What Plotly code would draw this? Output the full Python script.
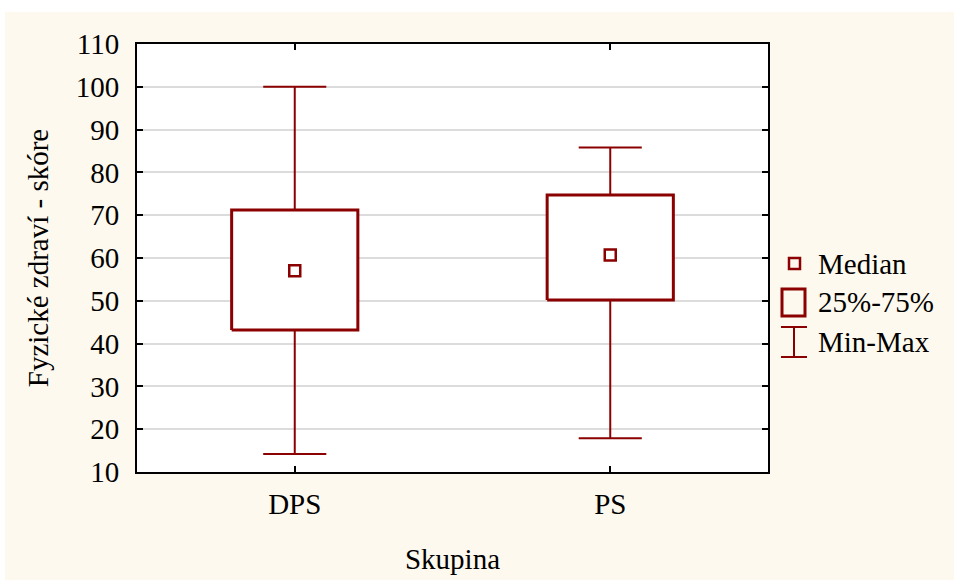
import plotly.graph_objects as go

categories = ["DPS", "PS"]
q_min = [14.2, 17.9]
q1 = [43.2, 50.2]
median = [57.0, 60.7]
q3 = [71.2, 74.7]
q_max = [100.0, 85.8]
y_ticks = [10, 20, 30, 40, 50, 60, 70, 80, 90, 100, 110]

RED = "#8B0000"
FONT = "Liberation Serif, Times New Roman, serif"
FS = 29
W, H = 954, 580
L, R, T, B = 137, 768, 44, 472

fig = go.Figure()
bw = 0.2
cw = 0.1
for i, c in enumerate(categories):
    # whiskers
    fig.add_trace(go.Scatter(x=[i, i, None, i, i, None, i - cw, i + cw, None, i - cw, i + cw],
                             y=[q_max[i], q3[i], None, q1[i], q_min[i], None, q_max[i], q_max[i], None, q_min[i], q_min[i]],
                             mode="lines", line=dict(color=RED, width=2), showlegend=False, hoverinfo="skip"))
    # box
    fig.add_trace(go.Scatter(x=[i - bw, i + bw, i + bw, i - bw, i - bw],
                             y=[q1[i], q1[i], q3[i], q3[i], q1[i]],
                             mode="lines", line=dict(color=RED, width=3), fill="toself",
                             fillcolor="white", showlegend=False, hoverinfo="skip"))
    # median
    fig.add_trace(go.Scatter(x=[i], y=[median[i]], mode="markers",
                             marker=dict(symbol="square-open", size=11, color=RED, line=dict(width=2.5)),
                             showlegend=False))

def px_x(p):
    return (p - L) / (R - L)

def px_y(p):
    return (B - p) / (B - T)

shapes = [
    dict(type="rect", xref="paper", yref="paper", x0=px_x(0), x1=px_x(W), y0=px_y(0), y1=px_y(12),
         fillcolor="white", line=dict(width=0), layer="below"),
    dict(type="rect", xref="paper", yref="paper", x0=px_x(0), x1=px_x(5), y0=px_y(0), y1=px_y(H),
         fillcolor="white", line=dict(width=0), layer="below"),
    # legend symbols
    dict(type="rect", xref="paper", yref="paper", x0=px_x(789), x1=px_x(800), y0=px_y(269), y1=px_y(258),
         line=dict(color=RED, width=2.5)),
    dict(type="rect", xref="paper", yref="paper", x0=px_x(782), x1=px_x(805), y0=px_y(316), y1=px_y(289),
         line=dict(color=RED, width=3)),
    dict(type="line", xref="paper", yref="paper", x0=px_x(794), x1=px_x(794), y0=px_y(357), y1=px_y(327),
         line=dict(color=RED, width=2)),
    dict(type="line", xref="paper", yref="paper", x0=px_x(781), x1=px_x(807), y0=px_y(327), y1=px_y(327),
         line=dict(color=RED, width=2)),
    dict(type="line", xref="paper", yref="paper", x0=px_x(781), x1=px_x(807), y0=px_y(357), y1=px_y(357),
         line=dict(color=RED, width=2)),
]

annotations = []
for txt, yy in [("Median", 264), ("25%-75%", 302), ("Min-Max", 342)]:
    annotations.append(dict(text=txt, xref="paper", yref="paper", x=px_x(816), y=px_y(yy),
                            xanchor="left", yanchor="middle", showarrow=False,
                            font=dict(family=FONT, size=FS, color="black")))

fig.update_layout(
    width=W, height=H,
    margin=dict(l=L, r=W - R, t=T, b=H - B),
    paper_bgcolor="#FEF9EE",
    plot_bgcolor="white",
    font=dict(family=FONT, size=FS, color="black"),
    shapes=shapes,
    annotations=annotations,
    showlegend=False,
    xaxis=dict(range=[-0.5, 1.5], tickvals=list(range(len(categories))), ticktext=categories,
               showgrid=False, zeroline=False, showline=True, linecolor="black", linewidth=2,
               mirror="ticks", ticks="inside", ticklen=6, tickwidth=1.5, tickcolor="black",
               ticklabelstandoff=5, automargin=False,
               title=dict(text="Skupina", font=dict(family=FONT, size=FS), standoff=30),
               tickfont=dict(family=FONT, size=FS)),
    yaxis=dict(range=[10, 110], tickvals=y_ticks, showgrid=True, gridcolor="#dcdcdc", gridwidth=2,
               zeroline=False, showline=True, linecolor="black", linewidth=2,
               mirror="ticks", ticks="inside", ticklen=6, tickwidth=1.5, tickcolor="black",
               ticklabelstandoff=10, automargin=False,
               title=dict(text="Fyzické zdraví - skóre", font=dict(family=FONT, size=FS), standoff=19),
               tickfont=dict(family=FONT, size=FS)),
)

fig.write_html("out.html")
